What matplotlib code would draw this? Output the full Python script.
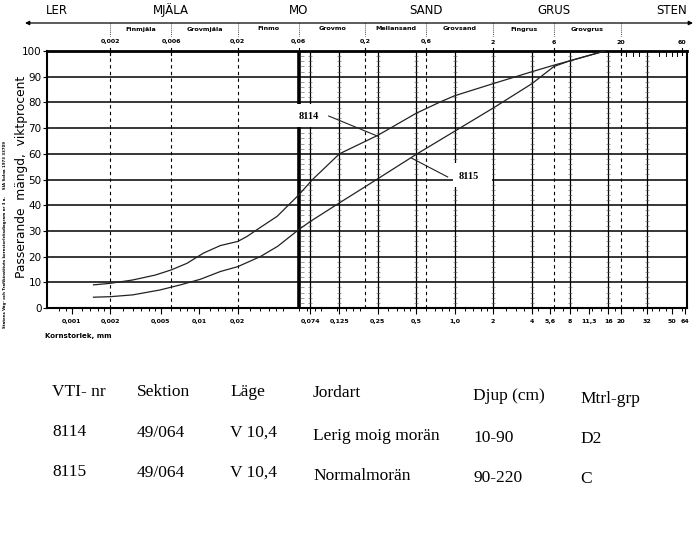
import numpy as np
import matplotlib
matplotlib.use('Agg')
import matplotlib.pyplot as plt
from matplotlib.patches import Rectangle
from matplotlib.ticker import NullFormatter

# grain size (mm) and passing amount (%)
size_8114 = [0.00148, 0.002, 0.003, 0.0045, 0.006, 0.008, 0.0108, 0.0146, 0.02, 0.0237, 0.0283,
             0.0407, 0.06, 0.077, 0.125, 0.25, 0.5, 0.78, 1.0, 2.0, 4.0, 6.0, 8.0, 15.0]
pass_8114 = [9.0, 9.6, 10.9, 12.8, 14.8, 17.4, 21.4, 24.3, 25.9, 27.9, 30.5,
             35.7, 44.0, 50.0, 60.0, 67.2, 75.8, 80.3, 82.6, 87.3, 91.9, 94.5, 96.2, 100.0]

size_8115 = [0.00148, 0.002, 0.003, 0.0049, 0.0071, 0.0102, 0.0146, 0.02, 0.03, 0.041, 0.06,
             0.074, 0.125, 0.25, 0.5, 1.0, 2.0, 4.0, 6.0, 8.0, 15.0]
pass_8115 = [4.2, 4.4, 5.1, 7.0, 9.0, 11.2, 14.2, 16.1, 20.0, 24.0, 30.5,
             33.7, 40.9, 50.3, 59.8, 68.8, 77.8, 87.2, 94.0, 96.2, 100.0]

main_fractions = ['LER', 'MJÄLA', 'MO', 'SAND', 'GRUS', 'STEN']
sub_fractions = ['Finmjäla', 'Grovmjäla', 'Finmo', 'Grovmo', 'Mellansand', 'Grovsand', 'Fingrus', 'Grovgrus']
fraction_limits = [0.002, 0.006, 0.02, 0.06, 0.2, 0.6, 2, 6, 20]

top_ticks = [0.002, 0.006, 0.02, 0.06, 0.2, 0.6, 2, 6, 20, 60]
top_labels = ['0,002', '0,006', '0,02', '0,06', '0,2', '0,6', '2', '6', '20', '60']
bottom_ticks = [0.001, 0.002, 0.005, 0.01, 0.02, 0.074, 0.125, 0.25, 0.5, 1.0,
                2, 4, 5.6, 8, 11.3, 16, 20, 32, 50, 64]
bottom_labels = ['0,001', '0,002', '0,005', '0,01', '0,02', '0,074', '0,125', '0,25', '0,5', '1,0',
                 '2', '4', '5,6', '8', '11,3', '16', '20', '32', '50', '64']
sieve_lines = [0.074, 0.125, 0.25, 0.5, 1.0, 2, 4, 8, 16, 32]
dashed_lines = [0.002, 0.006, 0.02, 0.2, 0.6, 6, 20]
top_minor = [22, 25, 28, 40, 45, 50, 55]

table_header = ['VTI- nr', 'Sektion', 'Läge', 'Jordart', 'Djup (cm)', 'Mtrl-grp']
row_8114 = ['8114', '49/064', 'V 10,4', 'Lerig moig morän', '10-90', 'D2']
row_8115 = ['8115', '49/064', 'V 10,4', 'Normalmorän', '90-220', 'C']

# layout (pixels of the 699x534 page)
W, H = 699, 534
def fx(px):
    return px / W
def fy(py):
    return 1 - py / H

fig = plt.figure(figsize=(6.99, 5.34), dpi=100)
ax = fig.add_axes([fx(47), fy(308), 640 / W, 257 / H])
ax.set_xscale('log')
ax.set_xlim(0.00064, 66)
ax.set_ylim(0, 100)

# grid of the form
for v in range(10, 100, 10):
    ax.axhline(v, color='black', lw=1.1, zorder=1)
for x in sieve_lines:
    ax.axvline(x, color='black', lw=0.9, zorder=1)
for x in dashed_lines:
    ax.axvline(x, color='black', lw=0.8, ls=(0, (3, 3)), zorder=1)
ax.axvline(0.06, color='black', lw=2.6, zorder=1)

ruler_y = [v for v in range(2, 100, 2) if v % 10]
for x in sieve_lines + [0.064]:
    ax.plot([x] * len(ruler_y), ruler_y, ls='none', marker='_', ms=2.2, mew=0.4, color='#555555', zorder=1)

# white boxes behind curve labels
ax.add_patch(Rectangle((0.035, 70.6), 0.098 - 0.035, 8.8, facecolor='white', edgecolor='none', zorder=2))
ax.add_patch(Rectangle((0.97, 47.0), 1.95 - 0.97, 9.5, facecolor='white', edgecolor='none', zorder=2))

ax.plot(size_8114, pass_8114, color='#222222', lw=0.9, zorder=3)
ax.plot(size_8115, pass_8115, color='#222222', lw=0.9, zorder=3)

ax.text(0.0716, 74.6, '8114', fontsize=7.5, family='Liberation Serif', fontweight='bold',
        ha='center', va='center', zorder=4)
ax.plot([0.103, 0.248], [74.7, 66.9], color='#222222', lw=0.8, zorder=4)
ax.text(1.29, 51.2, '8115', fontsize=7.5, family='Liberation Serif', fontweight='bold',
        ha='center', va='center', zorder=4)
ax.plot([0.88, 0.46], [51.0, 58.3], color='#222222', lw=0.8, zorder=4)

# axes and ticks
for s in ax.spines.values():
    s.set_linewidth(1.5)
ax.spines['top'].set_linewidth(2.0)

ax.set_xticks(bottom_ticks, bottom_labels)
minor_x = [m * 10.0 ** e for e in range(-4, 2) for m in (1.2, 1.4, 1.6, 1.8, 2.5, 3, 3.5, 4, 4.5, 6, 7, 8, 9)]
minor_x = [x for x in minor_x if 0.0007 < x < 64]
ax.set_xticks(minor_x, minor=True)
ax.xaxis.set_minor_formatter(NullFormatter())
ax.tick_params(axis='x', which='major', length=4, width=0.8, direction='out', labelsize=4.5, pad=4)
ax.tick_params(axis='x', which='minor', length=2.5, width=0.7, direction='out')
for lbl in ax.get_xticklabels():
    lbl.set_fontweight('bold')

ax.set_yticks(range(0, 101, 10))
ax.tick_params(axis='y', length=3, width=0.8, labelsize=7.5, pad=1)

# top of the form: fraction names and limits
trans = ax.get_xaxis_transform()
def ay(py):
    return (308 - py) / 257

main_x = [0.00077, 0.006, 0.06, 0.6, 6.0, 50.0]
for name, x in zip(main_fractions, main_x):
    ax.text(x, ay(10), name, transform=trans, ha='center', va='center', fontsize=8.5, clip_on=False)

for name, lo, hi in zip(sub_fractions, fraction_limits[:-1], fraction_limits[1:]):
    ax.text(np.sqrt(lo * hi), ay(29), name, transform=trans, ha='center', va='center',
            fontsize=4.6, fontweight='bold', clip_on=False)
for x in fraction_limits:
    ax.plot([x, x], [ay(23), ay(36)], transform=trans, color='black', lw=0.6, ls=(0, (1, 1.5)), clip_on=False)

for x, lbl in zip(top_ticks, top_labels):
    ax.text(x, ay(42), lbl, transform=trans, ha='center', va='center', fontsize=4.5,
            fontweight='bold', clip_on=False)
    ax.plot([x, x], [ay(48), ay(55)], transform=trans, color='black', lw=0.8, clip_on=False)
for x in top_minor:
    ax.plot([x, x], [ay(51), ay(56)], transform=trans, color='black', lw=0.7, clip_on=False)

ax.annotate('', xy=(fx(693), fy(23)), xytext=(fx(25), fy(23)), xycoords='figure fraction',
            arrowprops=dict(arrowstyle='<|-|>', lw=0.9, color='black', mutation_scale=6,
                            shrinkA=0, shrinkB=0))

fig.text(fx(22), fy(177), 'Passerande  mängd,  viktprocent', rotation=90, ha='center', va='center', fontsize=8.8)
fig.text(fx(45), fy(336), 'Kornstorlek, mm', ha='left', va='center', fontsize=5, fontweight='bold')
fig.text(fx(5), fy(234), 'Statens Väg- och Trafikinstituts kornstorleksdiagram nr 3 a.     SIA Solna 1973 33709',
         rotation=90, ha='center', va='center', fontsize=2.8, fontweight='bold')

# table with the samples
col_x = [52, 137, 230, 313, 473, 580]
head_y = [392, 392, 392, 393, 396, 399]
for x, y, txt in zip(col_x, head_y, table_header):
    fig.text(fx(x), fy(y), txt, ha='left', va='center', fontsize=12.5, family='Liberation Serif')
for row, base in [(row_8114, 432), (row_8115, 472)]:
    for i, (x, txt) in enumerate(zip(col_x, row)):
        fig.text(fx(x), fy(base + [0, 1, 1, 4, 6, 7][i]), txt, ha='left', va='center',
                 fontsize=12.5, family='Liberation Serif')

plt.savefig('out.png', dpi=100)
